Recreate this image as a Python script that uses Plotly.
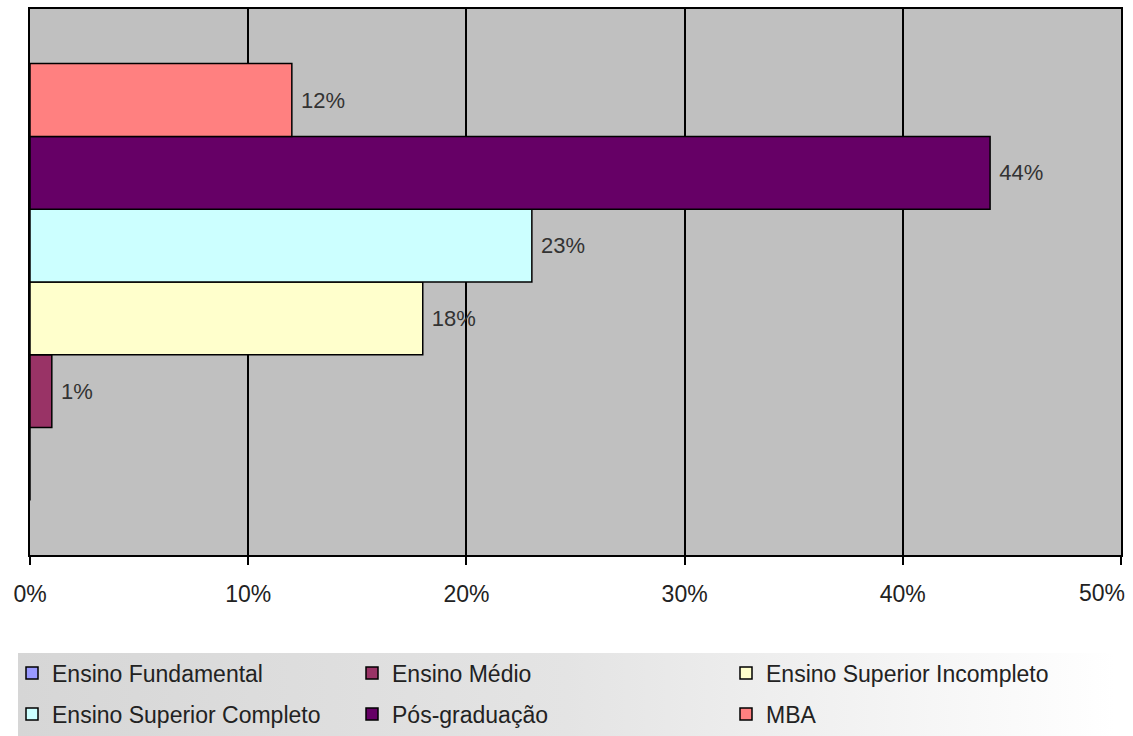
import base64
import plotly.graph_objects as go

# ---- data ----
series_names = ["Ensino Fundamental", "Ensino Médio", "Ensino Superior Incompleto",
                "Ensino Superior Completo", "Pós-graduação", "MBA"]
series_values = [0, 1, 18, 23, 44, 12]
series_labels = ["", "1%", "18%", "23%", "44%", "12%"]
series_colors = ["#9999FF", "#993366", "#FFFFCC", "#CCFFFF", "#660066", "#FF8080"]
x_tick_values = [0, 10, 20, 30, 40, 50]
x_tick_labels = ["0%", "10%", "20%", "30%", "40%", "50%"]
category = ["Escolaridade"]

FONT = "Liberation Sans, Arial, sans-serif"
W, H = 1133, 736

# legend cell placement (pixels): left edge, vertical centre
legend_cells = [(12, 673), (352, 673), (726, 673),
                (12, 714), (352, 714), (726, 714)]

# the last tick label is drawn right-aligned at the chart edge (as in the reference)
tick_text = list(x_tick_labels[:-1]) + [""]

fig = go.Figure()
for i, (name, val, lab, col) in enumerate(zip(series_names, series_values,
                                              series_labels, series_colors)):
    lname = "legend" if i == 0 else f"legend{i+1}"
    fig.add_trace(go.Bar(
        y=category, x=[val], name=name, orientation="h",
        marker=dict(color=col, line=dict(color="#000000", width=1.5)),
        text=[("\u00a0" + lab) if lab else ""], textposition="outside",
        cliponaxis=False,
        textfont=dict(family=FONT, size=22, color="#333333"),
        legend=lname, hoverinfo="x+name",
    ))

legends = {}
for i, (lx, ly) in enumerate(legend_cells):
    key = "legend" if i == 0 else f"legend{i+1}"
    legends[key] = dict(
        xref="container", yref="container",
        x=lx / W, y=1 - ly / H, xanchor="left", yanchor="middle",
        bgcolor="rgba(0,0,0,0)", borderwidth=0,
        font=dict(family=FONT, size=23, color="#222222"),
    )

svg = ("<svg xmlns='http://www.w3.org/2000/svg' width='100' height='10' "
       "viewBox='0 0 100 10' preserveAspectRatio='none'>"
       "<defs><linearGradient id='g' x1='0' y1='0' x2='1' y2='0'>"
       "<stop offset='0' stop-color='#d6d6d6'/>"
       "<stop offset='0.5' stop-color='#e4e4e4'/>"
       "<stop offset='1' stop-color='#ffffff'/></linearGradient></defs>"
       "<rect width='100' height='10' fill='url(#g)'/></svg>")
svg_uri = "data:image/svg+xml;base64," + base64.b64encode(svg.encode()).decode()

# plot area in pixels: x 30..1121, y 9..555
px0, px1, py0, py1 = 30, 1121, 9, 555
pl, pr, pt, pb = px0, W - px1, py0, H - py1
pw, ph = px1 - px0, py1 - py0

fig.update_layout(
    width=W, height=H,
    margin=dict(l=pl, r=pr, t=pt, b=pb, pad=0, autoexpand=False),
    paper_bgcolor="#ffffff", plot_bgcolor="#C0C0C0",
    barmode="group", bargap=0.2, bargroupgap=0,
    showlegend=True,
    font=dict(family=FONT, color="#222222"),
    xaxis=dict(
        range=[0, 50], tickvals=x_tick_values, ticktext=tick_text,
        showgrid=True, gridcolor="#000000", gridwidth=2,
        showline=True, linecolor="#000000", linewidth=2, mirror=True,
        ticks="outside", ticklen=8, tickwidth=2, tickcolor="#000000",
        ticklabelstandoff=9, tickangle=0, ticklabeloverflow="allow",
        tickfont=dict(family=FONT, size=23, color="#222222"),
        zeroline=False, fixedrange=True,
    ),
    yaxis=dict(
        showticklabels=False, showgrid=False, ticks="",
        showline=True, linecolor="#000000", linewidth=2, mirror=True,
        zeroline=False, fixedrange=True,
    ),
    annotations=[dict(
        x=x_tick_values[-1], xref="x", y=0, yref="paper",
        text=x_tick_labels[-1], showarrow=False,
        xanchor="right", yanchor="middle", xshift=6, yshift=-38,
        font=dict(family=FONT, size=23, color="#222222"),
    )],
    images=[dict(
        source=svg_uri, xref="paper", yref="paper",
        x=(18 - px0) / pw, y=(py1 - 653) / ph,
        sizex=(1115 - 18) / pw, sizey=(750 - 653) / ph,
        xanchor="left", yanchor="top", sizing="stretch", layer="below",
    )],
    **legends,
)

fig.write_html(
    "out.html",
    config={"displayModeBar": False},
    post_script="document.body.style.margin='0';document.body.style.overflow='hidden';",
)
